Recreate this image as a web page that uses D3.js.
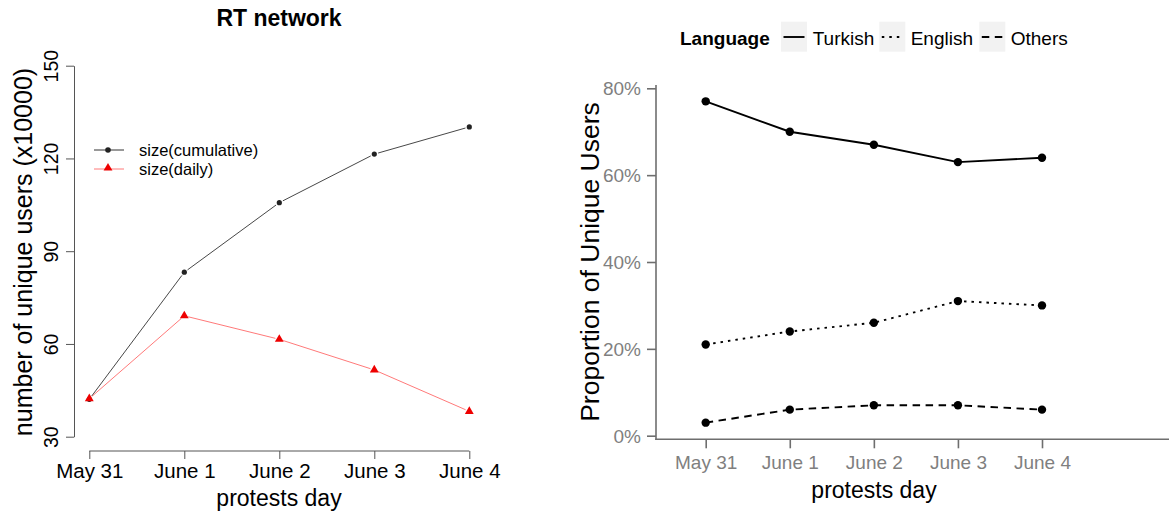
<!DOCTYPE html>
<html><head><meta charset="utf-8">
<script src="https://cdn.jsdelivr.net/npm/d3@7"></script>
<style>html,body{margin:0;padding:0;background:#fff;}svg{display:block;font-family:"Liberation Sans",Arial,Helvetica,sans-serif;}</style>
</head><body>
<svg id="c" width="1169" height="516"></svg>
<script>
const days = ["May 31", "June 1", "June 2", "June 3", "June 4"];
const cumulative = [42.1, 83.2, 105.7, 121.4, 130.2];
const daily = [42.3, 69.1, 61.5, 51.6, 38.2];
const leftTicks = [30, 60, 90, 120, 150];
const turkish = [0.77, 0.70, 0.67, 0.63, 0.64];
const english = [0.21, 0.24, 0.26, 0.31, 0.30];
const others = [0.03, 0.06, 0.07, 0.07, 0.06];
const rightTicks = [0, 0.2, 0.4, 0.6, 0.8];

const svg = d3.select("#c");

// ---------- Left chart ----------
const xL = d3.scalePoint().domain(days).range([89.3, 469.3]);
const yL = d3.scaleLinear().domain([30, 150]).range([436.7, 65.7]);
const gL = svg.append("g");

const yAxL = gL.append("g").attr("transform", "translate(74,0)")
  .call(d3.axisLeft(yL).tickValues(leftTicks).tickSize(8).tickSizeOuter(0).tickPadding(0));
yAxL.select(".domain").attr("stroke", "#555").attr("stroke-width", 1);
yAxL.selectAll(".tick line").attr("stroke", "#555");
yAxL.selectAll(".tick text").attr("x", null).attr("dy", null)
  .attr("transform", "translate(-23,0) rotate(-90)")
  .attr("text-anchor", "middle").attr("dominant-baseline", "central")
  .attr("font-size", 19.5).attr("fill", "#000");

const xAxL = gL.append("g").attr("transform", "translate(0,451)")
  .call(d3.axisBottom(xL).tickSize(8).tickSizeOuter(0).tickPadding(0));
xAxL.select(".domain").attr("stroke", "#555").attr("stroke-width", 1)
  .attr("d", `M${xL(days[0])},0H${xL(days[days.length-1])}`);
xAxL.selectAll(".tick line").attr("stroke", "#555");
xAxL.selectAll(".tick text").attr("y", 19).attr("dy", null)
  .attr("dominant-baseline", "central").attr("font-size", 20.5).attr("fill", "#000");

gL.append("text").attr("x", 279).attr("y", 18).attr("text-anchor", "middle")
  .attr("dominant-baseline", "central").attr("font-weight", "bold").attr("font-size", 23)
  .text("RT network");
gL.append("text").attr("x", 279).attr("y", 498).attr("text-anchor", "middle")
  .attr("dominant-baseline", "central").attr("font-size", 23).text("protests day");
gL.append("text").attr("transform", "translate(23,252) rotate(-90)").attr("text-anchor", "middle")
  .attr("dominant-baseline", "central").attr("font-size", 25).text("number of unique users (x10000)");

function gapSegments(g, vals, color, width, opacity, gap) {
  const pts = vals.map((v, i) => [xL(days[i]), yL(v)]);
  for (let i = 0; i < pts.length - 1; i++) {
    const [x1, y1] = pts[i], [x2, y2] = pts[i + 1];
    const len = Math.hypot(x2 - x1, y2 - y1);
    const ux = (x2 - x1) / len, uy = (y2 - y1) / len;
    g.append("line").attr("x1", x1 + ux * gap).attr("y1", y1 + uy * gap)
      .attr("x2", x2 - ux * gap).attr("y2", y2 - uy * gap)
      .attr("stroke", color).attr("stroke-width", width).attr("stroke-opacity", opacity);
  }
}
gapSegments(gL, cumulative, "#333", 1, 0.9, 4);
gapSegments(gL, daily, "#ff2020", 1, 0.6, 4);
const tri = d3.symbol().type(d3.symbolTriangle).size(34);
gL.selectAll(".cum").data(cumulative).join("circle")
  .attr("cx", (d, i) => xL(days[i])).attr("cy", d => yL(d)).attr("r", 2.6).attr("fill", "#222");
gL.selectAll(".dly").data(daily).join("path").attr("d", tri)
  .attr("transform", (d, i) => `translate(${xL(days[i])},${yL(d)})`).attr("fill", "#ee0000");

const legL = gL.append("g");
legL.append("line").attr("x1", 94).attr("x2", 124).attr("y1", 150).attr("y2", 150).attr("stroke", "#333");
legL.append("circle").attr("cx", 108).attr("cy", 150).attr("r", 2.8).attr("fill", "#222");
legL.append("text").attr("x", 139).attr("y", 150).attr("dominant-baseline", "central").attr("font-size", 16.5).text("size(cumulative)");
legL.append("line").attr("x1", 94).attr("x2", 124).attr("y1", 169).attr("y2", 169).attr("stroke", "#ff2020").attr("stroke-opacity", 0.6);
legL.append("path").attr("d", tri).attr("transform", "translate(108,168)").attr("fill", "#ee0000");
legL.append("text").attr("x", 139).attr("y", 169).attr("dominant-baseline", "central").attr("font-size", 16.5).text("size(daily)");

// ---------- Right chart ----------
const xR = d3.scalePoint().domain(days).range([705.7, 1042]);
const yR = d3.scaleLinear().domain([0, 0.8]).range([435.7, 88.3]);
const gR = svg.append("g");
const axisColor = "#6e6e6e";

gR.append("line").attr("x1", 656).attr("x2", 656).attr("y1", 85).attr("y2", 440)
  .attr("stroke", axisColor).attr("stroke-width", 1.6);
gR.append("line").attr("x1", 655.2).attr("x2", 1169).attr("y1", 439.3).attr("y2", 439.3)
  .attr("stroke", axisColor).attr("stroke-width", 1.6);

const yAxR = gR.append("g").attr("transform", "translate(656,0)")
  .call(d3.axisLeft(yR).tickValues(rightTicks).tickFormat(d3.format(".0%")).tickSize(9).tickSizeOuter(0).tickPadding(6));
yAxR.select(".domain").remove();
yAxR.selectAll(".tick line").attr("stroke", axisColor).attr("stroke-width", 1.6);
yAxR.selectAll(".tick text").attr("dy", null).attr("dominant-baseline", "central")
  .attr("font-size", 19).attr("fill", "#7f7f7f");

const xAxR = gR.append("g").attr("transform", "translate(0,439.3)")
  .call(d3.axisBottom(xR).tickSize(9).tickSizeOuter(0).tickPadding(0));
xAxR.select(".domain").remove();
xAxR.selectAll(".tick line").attr("stroke", axisColor).attr("stroke-width", 1.6);
xAxR.selectAll(".tick text").attr("y", 23.7).attr("dy", null).attr("dominant-baseline", "central")
  .attr("font-size", 19).attr("fill", "#7f7f7f");

gR.append("text").attr("x", 874).attr("y", 490).attr("text-anchor", "middle")
  .attr("dominant-baseline", "central").attr("font-size", 23).text("protests day");
gR.append("text").attr("transform", "translate(590,262) rotate(-90)").attr("text-anchor", "middle")
  .attr("dominant-baseline", "central").attr("font-size", 26.5).text("Proportion of Unique Users");

const series = [
  { name: "Turkish", values: turkish, dash: null },
  { name: "English", values: english, dash: "2.5,5" },
  { name: "Others", values: others, dash: "7.5,5.5" }
];
const line = d3.line().x((d, i) => xR(days[i])).y(d => yR(d));
series.forEach(s => {
  gR.append("path").attr("d", line(s.values)).attr("fill", "none").attr("stroke", "#000")
    .attr("stroke-width", 1.9).attr("stroke-dasharray", s.dash);
  gR.selectAll(null).data(s.values).join("circle")
    .attr("cx", (d, i) => xR(days[i])).attr("cy", d => yR(d)).attr("r", 4.2).attr("fill", "#000");
});

const legR = gR.append("g");
legR.append("text").attr("x", 680).attr("y", 38).attr("dominant-baseline", "central")
  .attr("font-weight", "bold").attr("font-size", 19).text("Language");
const keyX = [781, 879.3, 979.3], textX = [812.7, 910.7, 1010.7];
series.forEach((s, i) => {
  legR.append("rect").attr("x", keyX[i]).attr("y", 21.7).attr("width", 26).attr("height", 30).attr("fill", "#f2f2f2");
  legR.append("line").attr("x1", keyX[i] + 2.5).attr("x2", keyX[i] + 23.5).attr("y1", 37).attr("y2", 37)
    .attr("stroke", "#000").attr("stroke-width", 1.9).attr("stroke-dasharray", s.dash);
  legR.append("text").attr("x", textX[i]).attr("y", 38).attr("dominant-baseline", "central")
    .attr("font-size", 19).text(s.name);
});
</script>
</body></html>
